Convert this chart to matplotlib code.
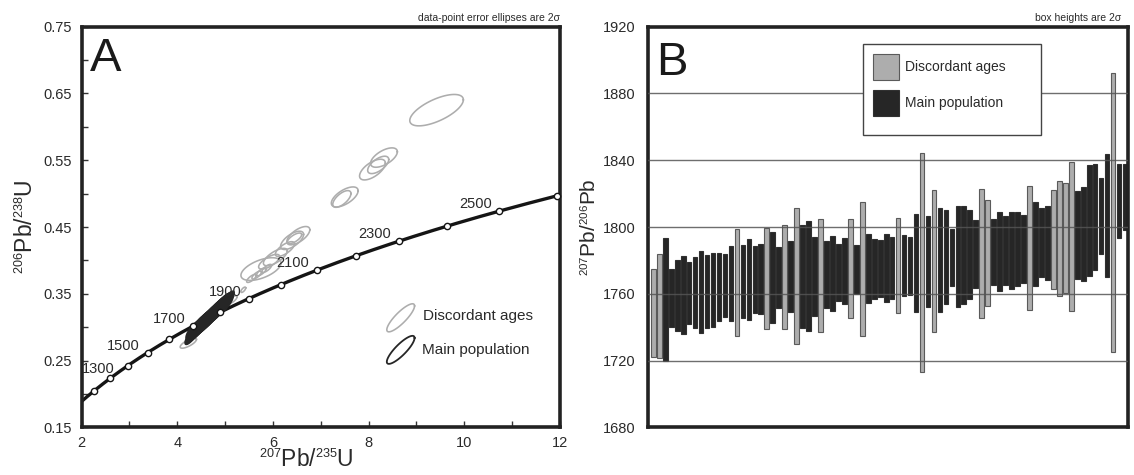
import numpy as np
import matplotlib
matplotlib.use("Agg")
import matplotlib.pyplot as plt
import matplotlib._mathtext as mathtext_mod
from matplotlib.patches import Rectangle

plt.rcParams['font.family'] = ['Liberation Sans', 'DejaVu Sans']
plt.rcParams['mathtext.fontset'] = 'custom'
plt.rcParams['mathtext.rm'] = 'Liberation Sans'
plt.rcParams['mathtext.it'] = 'Liberation Sans:italic'
mathtext_mod.SHRINK_FACTOR = 0.55  # smaller isotope superscripts, like the original

# decay constants (per year)
lambda238 = 1.55125e-10
lambda235 = 9.8485e-10

# concordia tick ages (Ma) and labelled ones
conc_ages = [1200, 1300, 1400, 1500, 1600, 1700, 1800, 1900, 2000, 2100, 2200, 2300, 2400, 2500, 2600]
conc_labels = [1300, 1500, 1700, 1900, 2100, 2300, 2500]

# discordant analyses: 207/235, 206/238, 2s x, 2s y, rho
disc_x = [9.42, 8.32, 8.20, 8.08, 7.50, 7.44, 6.53, 6.40, 6.45, 6.25, 6.05, 5.75, 5.92, 5.55, 5.66, 5.76, 5.87, 4.23, 5.38, 5.15]
disc_y = [0.625, 0.554, 0.543, 0.536, 0.495, 0.492, 0.437, 0.430, 0.433, 0.417, 0.405, 0.387, 0.398, 0.373, 0.378, 0.383, 0.388, 0.276, 0.356, 0.341]
disc_sx = [0.56, 0.28, 0.22, 0.27, 0.28, 0.19, 0.24, 0.24, 0.15, 0.20, 0.25, 0.42, 0.22, 0.10, 0.10, 0.10, 0.10, 0.17, 0.05, 0.10]
disc_sy = [0.0235, 0.0145, 0.013, 0.0155, 0.015, 0.0125, 0.0137, 0.0137, 0.008, 0.011, 0.013, 0.017, 0.011, 0.006, 0.006, 0.006, 0.006, 0.0075, 0.004, 0.006]
disc_rho = [0.66, 0.6, 0.62, 0.62, 0.62, 0.65, 0.65, 0.65, 0.7, 0.7, 0.7, 0.55, 0.7, 0.75, 0.75, 0.75, 0.75, 0.75, 0.7, 0.75]

# main population analyses
main_x = [4.30, 4.32, 4.34, 4.35, 4.37, 4.39, 4.40, 4.42, 4.43, 4.45, 4.46, 4.48, 4.49, 4.50, 4.52,
          4.53, 4.55, 4.56, 4.57, 4.58, 4.60, 4.61, 4.62, 4.63, 4.65, 4.66, 4.67, 4.68, 4.69, 4.70,
          4.72, 4.73, 4.74, 4.75, 4.76, 4.77, 4.79, 4.80, 4.81, 4.82, 4.83, 4.84, 4.85, 4.86, 4.87,
          4.88, 4.89, 4.90, 4.91, 4.92, 4.93, 4.94, 4.95, 4.96, 4.97, 4.98, 4.99, 5.01, 5.03, 5.05]
main_y = [0.287, 0.295, 0.290, 0.297, 0.292, 0.299, 0.294, 0.301, 0.296, 0.304, 0.298, 0.305, 0.300, 0.307, 0.302,
          0.309, 0.304, 0.311, 0.305, 0.312, 0.307, 0.314, 0.309, 0.315, 0.310, 0.317, 0.312, 0.319, 0.313, 0.320,
          0.315, 0.322, 0.317, 0.323, 0.318, 0.325, 0.320, 0.327, 0.321, 0.328, 0.323, 0.329, 0.324, 0.331, 0.325,
          0.332, 0.327, 0.333, 0.328, 0.334, 0.329, 0.336, 0.331, 0.337, 0.332, 0.338, 0.333, 0.339, 0.336, 0.341]
main_sx = 0.14
main_sy = 0.013
main_rho = 0.8

# panel B: 207Pb/206Pb ages, 2s, discordant flag
b_age = [1748.5, 1752.7, 1756.7, 1757.4, 1759.0, 1759.5, 1760.4, 1760.8, 1761.1, 1761.6,
         1762.1, 1764.1, 1764.9, 1766.0, 1766.9, 1767.3, 1768.6, 1768.4, 1768.8, 1769.0,
         1769.5, 1769.9, 1770.0, 1770.5, 1770.5, 1770.5, 1770.6, 1770.5, 1771.1, 1771.3,
         1772.1, 1772.7, 1773.8, 1775.0, 1774.7, 1774.8, 1775.3, 1775.0, 1775.3, 1775.5,
         1775.7, 1776.8, 1777.0, 1776.7, 1778.3, 1778.8, 1779.5, 1779.8, 1780.2, 1782.0,
         1781.8, 1782.5, 1783.0, 1783.7, 1783.7, 1783.9, 1784.5, 1785.2, 1785.3, 1785.8,
         1786.1, 1786.7, 1786.9, 1787.4, 1789.7, 1790.6, 1790.2, 1792.6, 1793.2, 1793.4,
         1794.3, 1795.1, 1795.7, 1803.8, 1805.8, 1806.5, 1806.8, 1808.6, 1815.5, 1818.1]
b_err = [26.1, 31.3, 36.7, 17.2, 21.1, 23.4, 18.6, 21.1, 24.8, 21.9,
         22.1, 20.3, 18.7, 22.4, 32.0, 21.7, 24.4, 20.2, 21.2, 30.3,
         27.3, 18.3, 31.3, 21.3, 40.6, 30.8, 32.7, 23.7, 33.8, 20.1,
         22.3, 17.2, 19.7, 29.8, 14.6, 39.9, 20.6, 17.9, 17.2, 20.4,
         18.6, 28.6, 18.5, 17.6, 29.5, 65.7, 27.3, 42.5, 31.0, 28.4,
         17.1, 30.3, 29.4, 26.6, 20.2, 38.7, 31.7, 19.7, 23.8, 20.7,
         23.0, 22.0, 20.2, 37.2, 25.0, 20.6, 22.2, 29.5, 34.5, 32.7,
         44.7, 26.5, 28.3, 33.2, 31.8, 22.6, 36.8, 83.6, 22.1, 19.9]
b_disc = [1, 1, 0, 0, 0, 0, 0, 0, 0, 0, 0, 0, 0, 0, 1, 0, 0, 0, 0, 1,
          0, 0, 1, 0, 1, 0, 0, 0, 1, 0, 0, 0, 0, 1, 0, 1, 0, 0, 0, 0,
          0, 1, 0, 0, 0, 1, 0, 1, 0, 0, 0, 0, 0, 0, 0, 1, 1, 0, 0, 0,
          0, 0, 0, 1, 0, 0, 0, 1, 1, 1, 1, 0, 0, 0, 0, 0, 0, 1, 0, 0]

GRAY = '#adadad'
DARK = '#262626'
TXT = '#2a2a2a'


def err_ellipse(x0, y0, sx, sy, rho, n=90):
    t = np.linspace(0, 2 * np.pi, n)
    xs = x0 + sx * np.cos(t)
    ys = y0 + sy * (rho * np.cos(t) + np.sqrt(1 - rho ** 2) * np.sin(t))
    return xs, ys


fig = plt.figure(figsize=(11.34, 4.75), dpi=100)
axA = fig.add_axes([0.0720, 0.1004, 0.4218, 0.8434])
axB = fig.add_axes([0.5714, 0.1004, 0.4233, 0.8434])

# ---------------- panel A ----------------
t = np.linspace(1100, 2700, 400) * 1e6
axA.plot(np.exp(lambda235 * t) - 1, np.exp(lambda238 * t) - 1, color='#151515', lw=2.4, zorder=2)

for i in range(len(disc_x)):
    xs, ys = err_ellipse(disc_x[i], disc_y[i], disc_sx[i], disc_sy[i], disc_rho[i])
    axA.plot(xs, ys, color=GRAY, lw=1.15, zorder=3)
for i in range(len(main_x)):
    xs, ys = err_ellipse(main_x[i], main_y[i], main_sx, main_sy, main_rho)
    axA.fill(xs, ys, facecolor=DARK, edgecolor=DARK, lw=1.0, zorder=4)

ta = np.array(conc_ages) * 1e6
axA.plot(np.exp(lambda235 * ta) - 1, np.exp(lambda238 * ta) - 1, 'o', ms=4.5, mfc='white',
         mec='#151515', mew=1.0, ls='none', zorder=6, clip_on=False)
for age in conc_labels:
    px = np.exp(lambda235 * age * 1e6) - 1
    py = np.exp(lambda238 * age * 1e6) - 1
    off = (-12, 9) if age == 1300 else (-24, 7)
    axA.annotate(str(age), (px, py), xytext=off, textcoords='offset pixels',
                 ha='center', va='center', fontsize=10.5, color=TXT, zorder=7)

# legend A
lx, ly = err_ellipse(8.67, 0.314, 0.29, 0.021, 0.85)
axA.plot(lx, ly, color=GRAY, lw=1.15)
lx, ly = err_ellipse(8.67, 0.266, 0.29, 0.021, 0.85)
axA.plot(lx, ly, color=DARK, lw=1.3)
axA.text(9.13, 0.316, 'Discordant ages', fontsize=11, color=TXT, va='center')
axA.text(9.12, 0.2655, 'Main population', fontsize=11, color=TXT, va='center')

axA.set_xlim(2, 12)
axA.set_ylim(0.15, 0.75)
axA.set_xticks(np.arange(2, 12.5, 1))
axA.set_xticklabels([str(v) if v % 2 == 0 else '' for v in range(2, 13)])
yt = np.arange(0.15, 0.7501, 0.05)
axA.set_yticks(yt)
axA.set_yticklabels(['%.2f' % v if i % 2 == 0 else '' for i, v in enumerate(yt)])
axA.tick_params(direction='in', length=4, width=1, labelsize=10.5, labelcolor=TXT, color='#333333')
axA.tick_params(axis='x', pad=6)
axA.tick_params(axis='y', pad=7)
axA.set_xlabel(r'$^{207}$Pb/$^{235}$U', fontsize=16.5, color=TXT)
axA.xaxis.set_label_coords(0.47, -0.055)
axA.set_ylabel(r'$^{206}$Pb/$^{238}$U', fontsize=16.5, color=TXT)
axA.yaxis.set_label_coords(-0.092, 0.5)
axA.text(0.018, 0.975, 'A', transform=axA.transAxes, fontsize=34, va='top', ha='left', color='#1a1a1a')
axA.text(1.0, 1.01, 'data-point error ellipses are 2σ', transform=axA.transAxes,
         fontsize=7.5, ha='right', va='bottom', color=TXT)

# ---------------- panel B ----------------
pos = np.arange(1, len(b_age) + 1)
age = np.array(b_age)
err = np.array(b_err)
cols = [GRAY if d else DARK for d in b_disc]
edges = ['#5a5a5a' if d else '#303030' for d in b_disc]
axB.bar(pos, 2 * err, bottom=age - err, width=0.78, color=cols, edgecolor=edges,
        linewidth=0.8, zorder=2)
for g in [1720, 1760, 1800, 1840, 1880]:
    axB.axhline(g, color='#555555', lw=1.0, zorder=3, alpha=0.85)

axB.set_xlim(0.1, 80.5)
axB.set_ylim(1680, 1920)
axB.set_xticks([])
axB.set_yticks([1680, 1720, 1760, 1800, 1840, 1880, 1920])
axB.tick_params(axis='y', length=0, pad=9, labelsize=10.5, labelcolor=TXT)
axB.set_ylabel(r'$^{207}$Pb/$^{206}$Pb', fontsize=15, color=TXT)
axB.yaxis.set_label_coords(-0.1, 0.5)
axB.text(0.017, 0.965, 'B', transform=axB.transAxes, fontsize=34, va='top', ha='left', color='#1a1a1a')
axB.text(0.985, 1.01, 'box heights are 2σ', transform=axB.transAxes,
         fontsize=7.5, ha='right', va='bottom', color=TXT)

# legend B
axB.add_patch(Rectangle((0.448, 0.729), 0.371, 0.228, transform=axB.transAxes,
                        facecolor='white', edgecolor='#444444', lw=1.0, zorder=5))
axB.add_patch(Rectangle((0.469, 0.867), 0.055, 0.065, transform=axB.transAxes,
                        facecolor=GRAY, edgecolor='#5a5a5a', lw=0.8, zorder=6))
axB.add_patch(Rectangle((0.469, 0.777), 0.055, 0.065, transform=axB.transAxes,
                        facecolor=DARK, edgecolor='#303030', lw=0.8, zorder=6))
axB.text(0.535, 0.9, 'Discordant ages', transform=axB.transAxes, fontsize=10,
         va='center', color=TXT, zorder=7)
axB.text(0.535, 0.81, 'Main population', transform=axB.transAxes, fontsize=10,
         va='center', color=TXT, zorder=7)

for ax in (axA, axB):
    for s in ax.spines.values():
        s.set_linewidth(2.6)
        s.set_color('#222222')

fig.savefig('out.png', dpi=100, facecolor='white')
